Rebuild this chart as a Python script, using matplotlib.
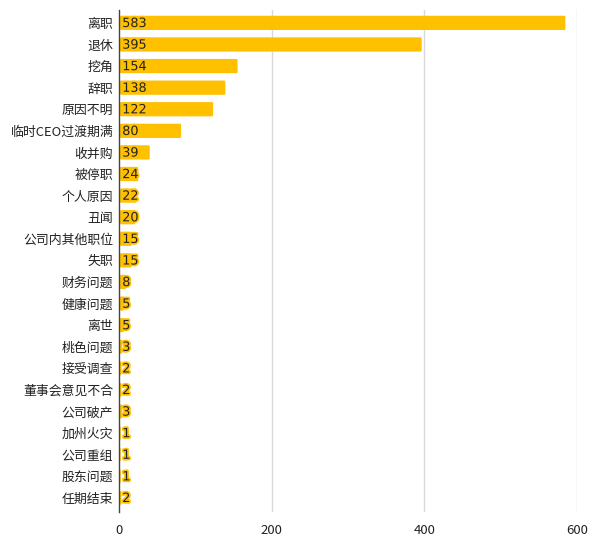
import matplotlib
matplotlib.use("Agg")
import matplotlib.pyplot as plt
import matplotlib.patheffects as pe
from matplotlib.patches import FancyBboxPatch

plt.rcParams["font.family"] = ["Noto Sans CJK SC", "DejaVu Sans"]

categories = ["离职", "退休", "挖角", "辞职", "原因不明", "临时CEO过渡期满", "收并购",
              "被停职", "个人原因", "丑闻", "公司内其他职位", "失职", "财务问题",
              "健康问题", "离世", "桃色问题", "接受调查", "董事会意见不合", "公司破产",
              "加州火灾", "公司重组", "股东问题", "任期结束"]
counts = [583, 395, 154, 138, 122, 80, 39, 24, 22, 20, 15, 15, 8, 5, 5, 3, 2, 2, 3,
          1, 1, 1, 2]
xticks = [0, 200, 400, 600]

BAR_COLOR = "#FFC000"


def main():
    fig = plt.figure(figsize=(6.0, 5.51), dpi=100)
    ax = fig.add_axes([0.198, 0.071, 0.764, 0.911])

    bar_h = 0.66
    halo = [pe.withStroke(linewidth=2.5, foreground=BAR_COLOR)]
    for i, v in enumerate(counts):
        patch = FancyBboxPatch((1.5, i - bar_h / 2), v, bar_h,
                               boxstyle="round,pad=0,rounding_size=1.5",
                               mutation_aspect=0.04,
                               facecolor=BAR_COLOR, edgecolor="none", zorder=3)
        ax.add_patch(patch)
        ax.text(4.5, i + 0.03, str(v), va="center", ha="left", fontsize=9.2,
                family="DejaVu Sans", color="#222222", zorder=4,
                path_effects=halo)

    ax.set_xlim(0, 600)
    ax.set_ylim(len(counts) - 1 + 0.65, -0.6)
    ax.set_yticks(range(len(categories)))
    ax.set_yticklabels(categories, fontsize=9.3, color="#222222")
    ax.set_xticks(xticks)
    ax.set_xticklabels([str(t) for t in xticks], fontsize=9.5, color="#222222")
    ax.tick_params(axis="y", length=0, pad=4)
    ax.tick_params(axis="x", length=0, pad=9)

    for t in xticks[1:]:
        ax.axvline(t, color="#d9d9d9", linewidth=1, zorder=1)

    for side in ["top", "right", "bottom"]:
        ax.spines[side].set_visible(False)
    ax.spines["left"].set_color("#444444")
    ax.spines["left"].set_linewidth(1)
    ax.spines["left"].set_zorder(5)

    fig.savefig("out.png", dpi=100, facecolor="white")


if __name__ == "__main__":
    main()
